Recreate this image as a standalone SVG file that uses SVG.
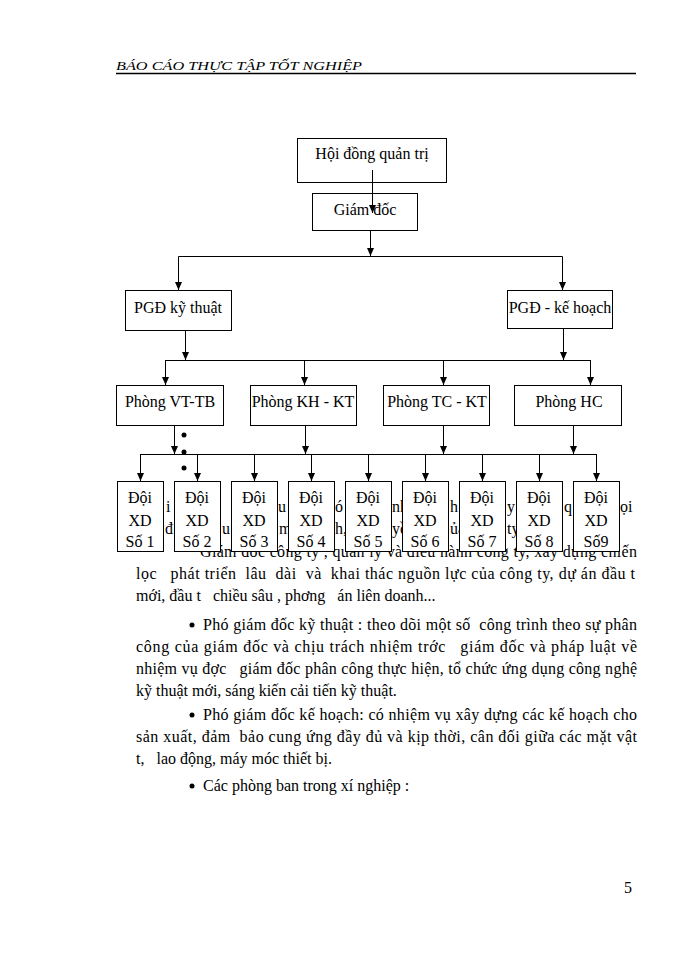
<svg xmlns="http://www.w3.org/2000/svg" width="700" height="960" viewBox="0 0 700 960">
<style>
.bx{fill:#fff;stroke:#000;stroke-width:1}
.t{font-family:"Liberation Serif","Times New Roman",serif;font-size:16px;fill:#000}
.c{text-anchor:middle}
.b{font-family:"Liberation Serif","Times New Roman",serif;font-size:16px;fill:#000;white-space:pre}
.ln{fill:none;stroke:#000;stroke-width:1}
.hd{font-family:"Liberation Serif","Times New Roman",serif;font-style:italic;font-size:12px;fill:#000}
</style>
<defs>
<marker id="ah" markerUnits="userSpaceOnUse" markerWidth="8" markerHeight="7" refX="8" refY="3.5" orient="auto">
<path d="M0,0 L8,3.5 L0,7 z" fill="#000"/>
</marker>
</defs>
<rect width="700" height="960" fill="#fff"/>
<!-- header -->
<text class="hd" x="116" y="70" textLength="246" lengthAdjust="spacingAndGlyphs">BÁO CÁO THỰC TẬP TỐT NGHIỆP</text>
<line x1="116" y1="73.5" x2="636" y2="73.5" stroke="#000" stroke-width="1.5"/>
<!-- body text (partly hidden behind boxes) -->
<g id="body">
<text class="b" x="166" y="512">i</text>
<text class="b" x="278" y="512">u</text>
<text class="b" x="335" y="512">ó</text>
<text class="b" x="392" y="512">nh</text>
<text class="b" x="450" y="512">h</text>
<text class="b" x="507" y="512">y</text>
<text class="b" x="564" y="512">q</text>
<text class="b" x="620" y="512">ọi</text>
<text class="b" x="165" y="534">đ</text>
<text class="b" x="222" y="534">u</text>
<text class="b" x="279" y="534">m</text>
<text class="b" x="335" y="534">h,</text>
<text class="b" x="392" y="534">yề</text>
<text class="b" x="450" y="534">ủa</text>
<text class="b" x="507" y="534">ty</text>
<text class="b" x="200" y="557" textLength="437" lengthAdjust="spacing">Giám đốc công ty , quản lý và điều hành công ty, xây dựng chiến</text>
<text class="b" x="136" y="579" textLength="499" lengthAdjust="spacing">lọc   phát triển  lâu  dài  và  khai thác nguồn lực của công ty, dự án đầu t</text>
<text class="b" x="136" y="601">mới, đầu t   chiều sâu , phơng   án liên doanh...</text>
<circle cx="192" cy="625" r="2.5" fill="#000"/>
<text class="b" x="203" y="630" textLength="434" lengthAdjust="spacing">Phó giám đốc kỹ thuật : theo dõi một số  công trình theo sự phân</text>
<text class="b" x="136" y="652" textLength="501" lengthAdjust="spacing">công của giám đốc và chịu trách nhiệm trớc   giám đốc và pháp luật về</text>
<text class="b" x="136" y="674" textLength="501" lengthAdjust="spacing">nhiệm vụ đợc   giám đốc phân công thực hiện, tổ chức ứng dụng công nghệ</text>
<text class="b" x="136" y="696">kỹ thuật mới, sáng kiến cải tiến kỹ thuật.</text>
<circle cx="192" cy="715" r="2.5" fill="#000"/>
<text class="b" x="203" y="720" textLength="434" lengthAdjust="spacing">Phó giám đốc kế hoạch: có nhiệm vụ xây dựng các kế hoạch cho</text>
<text class="b" x="136" y="742" textLength="501" lengthAdjust="spacing">sản xuất, đảm  bảo cung ứng đầy đủ và kịp thời, cân đối giữa các mặt vật</text>
<text class="b" x="136" y="764">t,   lao động, máy móc thiết bị.</text>
<circle cx="192" cy="786" r="2.5" fill="#000"/>
<text class="b" x="203" y="791">Các phòng ban trong xí nghiệp :</text>
<text class="b" x="624" y="893">5</text>
</g>
<!-- nodes -->
<g id="hdqt"><rect class="bx" x="297.5" y="138.5" width="149" height="44"/><text class="t c" x="372" y="159">Hội đồng quản trị</text></g>
<g id="giamdoc"><rect class="bx" x="312.5" y="193.5" width="105" height="37"/><text class="t c" x="365" y="215">Giám đốc</text></g>
<g id="pgd-kt"><rect class="bx" x="125.5" y="290.5" width="106" height="40"/><text class="t c" x="178" y="313">PGĐ kỹ thuật</text></g>
<g id="pgd-kh"><rect class="bx" x="507.5" y="290.5" width="105" height="38"/><text class="t c" x="560" y="313">PGĐ - kế hoạch</text></g>
<g id="p-vttb"><rect class="bx" x="116.5" y="385.5" width="107" height="40"/><text class="t c" x="170" y="407">Phòng VT-TB</text></g>
<g id="p-khkt"><rect class="bx" x="250.5" y="385.5" width="106" height="40"/><text class="t c" x="303" y="407">Phòng KH - KT</text></g>
<g id="p-tckt"><rect class="bx" x="383.5" y="385.5" width="106" height="40"/><text class="t c" x="437" y="407">Phòng TC - KT</text></g>
<g id="p-hc"><rect class="bx" x="514.5" y="385.5" width="107" height="40"/><text class="t c" x="569" y="407">Phòng HC</text></g>
<g id="doi1"><rect class="bx" x="117.5" y="481.5" width="46" height="70"/><text class="t c" x="140" y="503">Đội</text><text class="t c" x="140" y="526">XD</text><text class="t c" x="140" y="547">Số 1</text></g>
<g id="doi2"><rect class="bx" x="174.5" y="481.5" width="46" height="70"/><text class="t c" x="197" y="503">Đội</text><text class="t c" x="197" y="526">XD</text><text class="t c" x="197" y="547">Số 2</text></g>
<g id="doi3"><rect class="bx" x="231.5" y="481.5" width="46" height="70"/><text class="t c" x="254" y="503">Đội</text><text class="t c" x="254" y="526">XD</text><text class="t c" x="254" y="547">Số 3</text></g>
<g id="doi4"><rect class="bx" x="288.5" y="481.5" width="46" height="70"/><text class="t c" x="311" y="503">Đội</text><text class="t c" x="311" y="526">XD</text><text class="t c" x="311" y="547">Số 4</text></g>
<g id="doi5"><rect class="bx" x="345.5" y="481.5" width="46" height="70"/><text class="t c" x="368" y="503">Đội</text><text class="t c" x="368" y="526">XD</text><text class="t c" x="368" y="547">Số 5</text></g>
<g id="doi6"><rect class="bx" x="402.5" y="481.5" width="46" height="70"/><text class="t c" x="425" y="503">Đội</text><text class="t c" x="425" y="526">XD</text><text class="t c" x="425" y="547">Số 6</text></g>
<g id="doi7"><rect class="bx" x="459.5" y="481.5" width="46" height="70"/><text class="t c" x="482" y="503">Đội</text><text class="t c" x="482" y="526">XD</text><text class="t c" x="482" y="547">Số 7</text></g>
<g id="doi8"><rect class="bx" x="516.5" y="481.5" width="46" height="70"/><text class="t c" x="539" y="503">Đội</text><text class="t c" x="539" y="526">XD</text><text class="t c" x="539" y="547">Số 8</text></g>
<g id="doi9"><rect class="bx" x="573.5" y="481.5" width="46" height="70"/><text class="t c" x="596" y="503">Đội</text><text class="t c" x="596" y="526">XD</text><text class="t c" x="596" y="547">Số9</text></g>
<!-- connectors -->
<g id="connectors">
<line class="ln" x1="372.5" y1="170" x2="372.5" y2="213" marker-end="url(#ah)"/>
<line class="ln" x1="370.5" y1="231" x2="370.5" y2="256" marker-end="url(#ah)"/>
<polyline class="ln" points="178.5,290 178.5,256.5 562.5,256.5 562.5,290"/>
<line class="ln" x1="178.5" y1="270" x2="178.5" y2="290" marker-end="url(#ah)"/>
<line class="ln" x1="562.5" y1="270" x2="562.5" y2="290" marker-end="url(#ah)"/>
<line class="ln" x1="185.5" y1="331" x2="185.5" y2="360" marker-end="url(#ah)"/>
<line class="ln" x1="563.5" y1="329" x2="563.5" y2="360" marker-end="url(#ah)"/>
<line class="ln" x1="165.5" y1="360.5" x2="590.5" y2="360.5"/>
<line class="ln" x1="165.5" y1="360" x2="165.5" y2="385" marker-end="url(#ah)"/>
<line class="ln" x1="304.5" y1="370" x2="304.5" y2="385" marker-end="url(#ah)"/>
<line class="ln" x1="443.5" y1="370" x2="443.5" y2="385" marker-end="url(#ah)"/>
<line class="ln" x1="590.5" y1="360" x2="590.5" y2="385" marker-end="url(#ah)"/>
<line class="ln" x1="304.5" y1="360" x2="304.5" y2="372"/>
<line class="ln" x1="443.5" y1="360" x2="443.5" y2="372"/>
<line class="ln" x1="174.5" y1="426" x2="174.5" y2="454" marker-end="url(#ah)"/>
<line class="ln" x1="305.5" y1="426" x2="305.5" y2="454" marker-end="url(#ah)"/>
<line class="ln" x1="443.5" y1="426" x2="443.5" y2="454" marker-end="url(#ah)"/>
<line class="ln" x1="573.5" y1="426" x2="573.5" y2="454" marker-end="url(#ah)"/>
<line class="ln" x1="140.5" y1="454.5" x2="596.5" y2="454.5"/>
<line class="ln" x1="140.5" y1="454" x2="140.5" y2="481" marker-end="url(#ah)"/>
<line class="ln" x1="197.5" y1="454" x2="197.5" y2="481" marker-end="url(#ah)"/>
<line class="ln" x1="254.5" y1="454" x2="254.5" y2="481" marker-end="url(#ah)"/>
<line class="ln" x1="311.5" y1="454" x2="311.5" y2="481" marker-end="url(#ah)"/>
<line class="ln" x1="368.5" y1="454" x2="368.5" y2="481" marker-end="url(#ah)"/>
<line class="ln" x1="425.5" y1="454" x2="425.5" y2="481" marker-end="url(#ah)"/>
<line class="ln" x1="482.5" y1="454" x2="482.5" y2="481" marker-end="url(#ah)"/>
<line class="ln" x1="539.5" y1="454" x2="539.5" y2="481" marker-end="url(#ah)"/>
<line class="ln" x1="596.5" y1="454" x2="596.5" y2="481" marker-end="url(#ah)"/>
</g>
<g id="dots">
<circle cx="184" cy="435" r="2.5" fill="#000"/>
<circle cx="184" cy="452" r="2.5" fill="#000"/>
<circle cx="184" cy="468" r="2.5" fill="#000"/>
</g>
</svg>
